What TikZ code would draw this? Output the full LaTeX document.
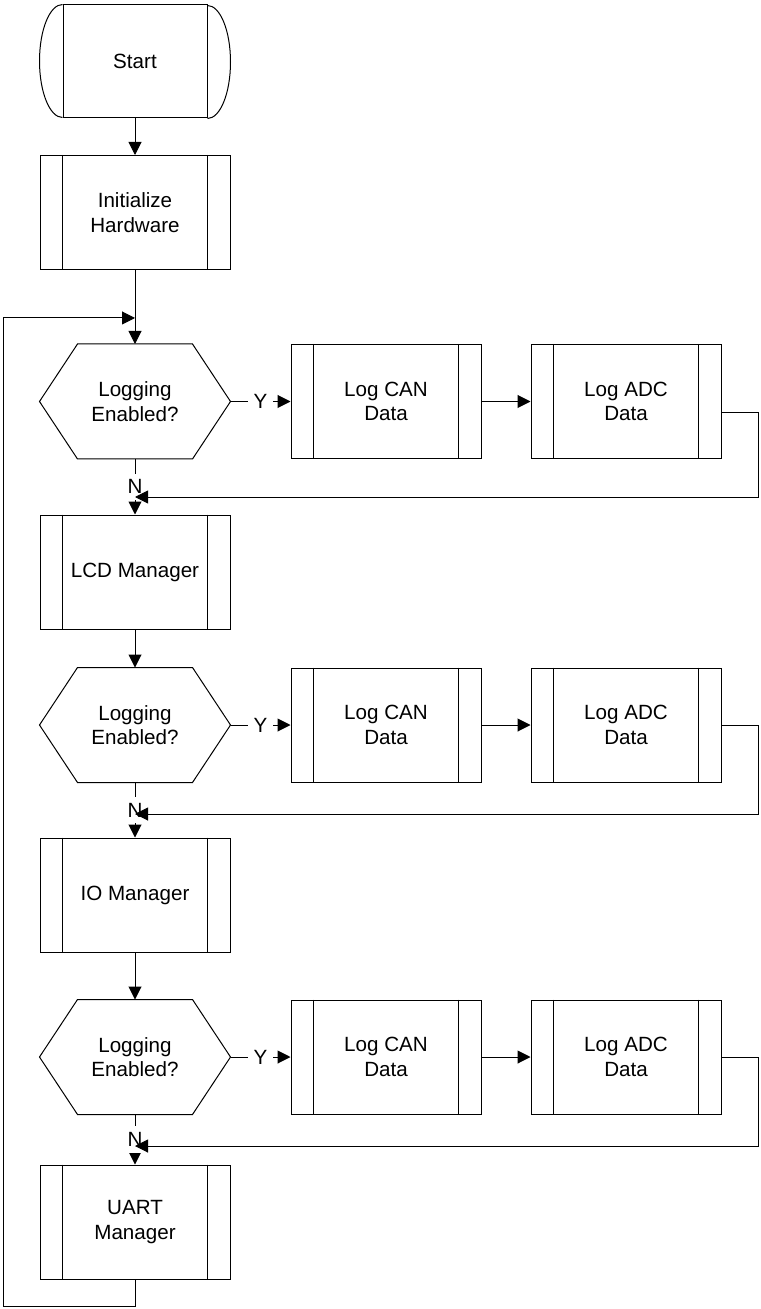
\documentclass[tikz,border=0pt]{standalone}
\usepackage{fontspec}
\setmainfont{Liberation Sans}
\usetikzlibrary{arrows.meta}

\begin{document}
\begin{tikzpicture}[x=0.5pt, y=-0.5pt, line width=0.5pt,
    font=\fontsize{10.3}{12.2}\selectfont,
    >={Triangle[length=6.5pt, width=6.5pt]},
    proc/.style={draw, minimum width=95pt, minimum height=57pt, align=center, inner sep=0pt},
    term/.style={draw, minimum width=72pt, minimum height=56.5pt, inner sep=0pt},
    decide/.style={minimum width=95pt, minimum height=57pt, align=center, inner sep=0pt},
    lbl/.style={fill=white, inner sep=3pt}]
    \useasboundingbox (0,0) rectangle (760,1309);

    % main column
    \node[term]   (start) at (135,61.5)  {Start};
    \node[proc]   (init)  at (135,212.5) {Initialize\\Hardware};
    \node[decide] (d1)    at (135,401.5) {Logging\\Enabled?};
    \node[proc]   (lcd)   at (135,572)   {LCD Manager};
    \node[decide] (d2)    at (135,725)   {Logging\\Enabled?};
    \node[proc]   (io)    at (135,895)   {IO Manager};
    \node[decide] (d3)    at (135,1057)  {Logging\\Enabled?};
    \node[proc]   (uart)  at (135,1222)  {UART\\Manager};

    % logging branch next to each decision
    \foreach \r/\y in {1/401.5, 2/725, 3/1057} {
        \node[proc] (can\r) at (386,\y) {Log CAN\\Data};
        \node[proc] (adc\r) at (626,\y) {Log ADC\\Data};
    }

    % side bars of the process boxes
    \foreach \n in {init, lcd, io, uart, can1, adc1, can2, adc2, can3, adc3}
        \draw ([xshift=11.5pt]\n.north west) -- ([xshift=11.5pt]\n.south west)
              ([xshift=-11.5pt]\n.north east) -- ([xshift=-11.5pt]\n.south east);

    % hexagons
    \foreach \n in {d1, d2, d3}
        \draw (\n.west) -- ([xshift=19pt]\n.north west) -- ([xshift=-19pt]\n.north east)
              -- (\n.east) -- ([xshift=-19pt]\n.south east) -- ([xshift=19pt]\n.south west) -- cycle;

    % rounded ends of the terminal
    \draw (start.north west) arc[start angle=90, end angle=270, x radius=11.5pt, y radius=28.25pt];
    \draw (start.south east) arc[start angle=-90, end angle=90, x radius=11.5pt, y radius=28.25pt];

    \coordinate (join)   at (135,318);
    \coordinate (loopdn) at (3,1306);
    \coordinate (loopup) at (3,318);

    \draw[->] (start) -- (init);
    \draw (init) -- (join);
    \draw[->] (join) -- (d1);
    \draw[->] (d1) -- node[lbl] {N} (lcd);
    \draw[->] (lcd) -- (d2);
    \draw[->] (d2) -- node[lbl] {N} (io);
    \draw[->] (io) -- (d3);
    \draw[->] (d3) -- node[lbl] {N} (uart);

    \foreach \r/\off/\ret in {1/11/497, 2/0/814, 3/0/1146} {
        \draw[->] (d\r) -- node[lbl] {Y} (can\r);
        \draw[->] (can\r) -- (adc\r);
        \coordinate (back\r) at (135,\ret);
        \draw[->] ([yshift=-\off*0.5pt]adc\r.east) -- ++(37,0) |- (back\r);
    }

    % back to the top
    \draw[->] (uart) |- (loopdn) -- (loopup) -- (join);
\end{tikzpicture}
\end{document}
